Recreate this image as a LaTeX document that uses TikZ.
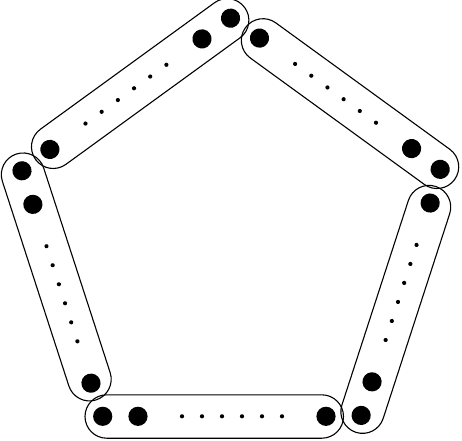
\documentclass[tikz,border=0pt]{standalone}
\begin{document}
\begin{tikzpicture}[x=1pt,y=1pt,
  band/.style={draw=black,line width=1.1pt,rounded corners=21.7pt},
  bigdot/.style={fill=black},
  smalldot/.style={fill=black}]
\useasboundingbox (-231.3,-202) rectangle (230.7,238);
\foreach \k in {0,1,2,3,4}{
  \begin{scope}[rotate=72*\k]
    \draw[band] (-146.3,-200.2) rectangle (112.2,-156.8);
    \foreach \x in {-128.6,-93.3,94.7}
      \fill[bigdot] (\x,-178.3) circle (9.6);
    \foreach \x in {-49.3,-29.3,-9.3,10.7,30.7,50.7}
      \fill[smalldot] (\x,-178.3) circle (2.1);
  \end{scope}
}
\end{tikzpicture}
\end{document}
